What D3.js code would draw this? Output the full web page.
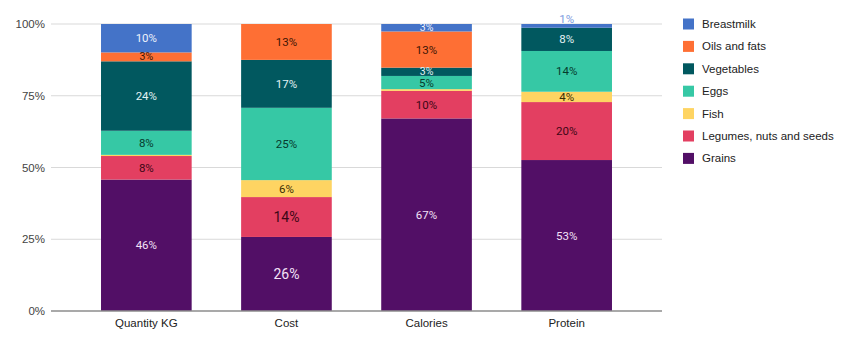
<!DOCTYPE html>
<html>
<head>
<meta charset="utf-8">
<script src="https://cdn.jsdelivr.net/npm/d3@7"></script>
<style>
  html, body { margin: 0; padding: 0; background: #fff; }
  svg { display: block; }
</style>
</head>
<body>
<svg id="chart" width="850" height="347"></svg>
<script>
// ---- data ----
const categories = ["Quantity KG", "Cost", "Calories", "Protein"];
const seriesNames = ["Grains", "Legumes, nuts and seeds", "Fish", "Eggs", "Vegetables", "Oils and fats", "Breastmilk"];
const grains     = [45.8, 25.8, 67.1, 52.6];
const legumes    = [8.2, 13.9, 9.6, 20.2];
const fish       = [0.4, 5.9, 0.6, 3.6];
const eggs       = [8.4, 25.2, 4.6, 14.2];
const vegetables = [24.2, 16.7, 2.9, 8.1];
const oils       = [3.1, 12.5, 12.6, 0.0];
const breastmilk = [9.9, 0.0, 2.6, 1.3];
const yTicks = [0, 25, 50, 75, 100];
const legendOrder = ["Breastmilk", "Oils and fats", "Vegetables", "Eggs", "Fish", "Legumes, nuts and seeds", "Grains"];

// ---- styles ----
const colors = {
  "Grains": "#520f66",
  "Legumes, nuts and seeds": "#e33f61",
  "Fish": "#fed462",
  "Eggs": "#36c8a5",
  "Vegetables": "#01585f",
  "Oils and fats": "#fe6f34",
  "Breastmilk": "#4473c8"
};
const labelColors = {
  "Grains": "#f3e2f7",
  "Legumes, nuts and seeds": "#3d0716",
  "Fish": "#3a2d05",
  "Eggs": "#063a2d",
  "Vegetables": "#e3f3f4",
  "Oils and fats": "#3d1605",
  "Breastmilk": "#eef2fb"
};

const valuesBySeries = {
  "Grains": grains,
  "Legumes, nuts and seeds": legumes,
  "Fish": fish,
  "Eggs": eggs,
  "Vegetables": vegetables,
  "Oils and fats": oils,
  "Breastmilk": breastmilk
};

const table = categories.map((c, i) => {
  const row = { category: c };
  seriesNames.forEach(s => row[s] = valuesBySeries[s][i]);
  return row;
});

const svg = d3.select("#chart");
const plotLeft = 51, plotRight = 662, plotTop = 24, plotBottom = 311;
const axisFont = "'Liberation Sans', Arial, sans-serif";

const x = d3.scaleBand().domain(categories).range([plotLeft, plotRight]).paddingInner(0.353).paddingOuter(0.357);
const y = d3.scaleLinear().domain([0, 100]).range([plotBottom, plotTop]);

// gridlines
svg.append("g").selectAll("line").data(yTicks.filter(t => t !== 0)).join("line")
  .attr("x1", plotLeft).attr("x2", plotRight)
  .attr("y1", d => y(d)).attr("y2", d => y(d))
  .attr("stroke", "#d9d9d9").attr("stroke-width", 1);

// y axis labels
const yAxis = d3.axisLeft(y).tickValues(yTicks).tickFormat(d => d + "%").tickSize(0).tickPadding(6);
const gy = svg.append("g").attr("transform", `translate(${plotLeft},0)`).call(yAxis);
gy.select(".domain").remove();
gy.selectAll("text").attr("font-family", axisFont).attr("font-size", 11.5).attr("fill", "#444");

// stacks
const stack = d3.stack().keys(seriesNames);
const stacked = stack(table);

const groups = svg.append("g").selectAll("g").data(stacked).join("g")
  .attr("fill", d => colors[d.key]);
groups.selectAll("rect").data(d => d.map(p => ({ key: d.key, p }))).join("rect")
  .attr("x", d => x(d.p.data.category))
  .attr("width", x.bandwidth())
  .attr("y", d => y(d.p[1]))
  .attr("height", d => Math.max(0, y(d.p[0]) - y(d.p[1])));

// x axis baseline
svg.append("line").attr("x1", plotLeft).attr("x2", plotRight).attr("y1", plotBottom).attr("y2", plotBottom)
  .attr("stroke", "#8c8c8c").attr("stroke-width", 1.5);

// x axis labels
const xAxis = d3.axisBottom(x).tickSize(0).tickPadding(8);
const gx = svg.append("g").attr("transform", `translate(0,${plotBottom})`).call(xAxis);
gx.select(".domain").remove();
gx.selectAll("text").attr("font-family", axisFont).attr("font-size", 11.5).attr("fill", "#222");

// data labels
const labels = [];
stacked.forEach(s => {
  s.forEach(p => {
    const v = p[1] - p[0];
    if (v <= 0) return;
    const h = y(p[0]) - y(p[1]);
    const bigFont = p.data.category === "Cost" && (s.key === "Grains" || s.key === "Legumes, nuts and seeds");
    if (h >= 6) {
      labels.push({ text: Math.round(v) + "%", cx: x(p.data.category) + x.bandwidth() / 2,
        cy: (y(p[0]) + y(p[1])) / 2, color: labelColors[s.key],
        size: bigFont ? 14 : (h < 10 ? 10.5 : 11.5) });
    } else if (v >= 1) {
      labels.push({ text: Math.round(v) + "%", cx: x(p.data.category) + x.bandwidth() / 2,
        cy: y(p[1]) - 5, color: "#7d9be0", size: 11.5 });
    }
  });
});

svg.append("g").selectAll("text").data(labels).join("text")
  .attr("x", d => d.cx).attr("y", d => d.cy)
  .attr("text-anchor", "middle").attr("dominant-baseline", "central")
  .attr("font-family", "Roboto, 'Liberation Sans', sans-serif")
  .attr("font-size", d => d.size)
  .attr("fill", d => d.color)
  .text(d => d.text);

// legend
const lg = svg.append("g").attr("transform", "translate(683,24)");
const rows = lg.selectAll("g").data(legendOrder).join("g")
  .attr("transform", (d, i) => `translate(0,${i * 22.4})`);
rows.append("rect").attr("x", 0).attr("y", -5.5).attr("width", 11).attr("height", 11)
  .attr("fill", d => colors[d]);
rows.append("text").attr("x", 19).attr("y", 0).attr("dominant-baseline", "central")
  .attr("font-family", axisFont).attr("font-size", 11.5).attr("fill", "#222")
  .text(d => d);
</script>
</body>
</html>
